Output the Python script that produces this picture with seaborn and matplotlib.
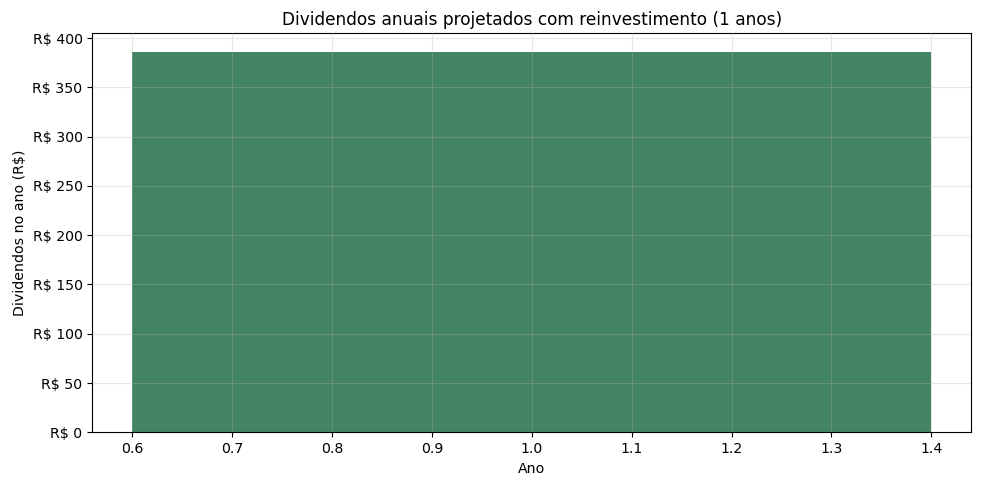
import matplotlib
matplotlib.use("Agg")
import matplotlib.pyplot as plt
import seaborn as sns
import pandas as pd
from matplotlib.ticker import FuncFormatter

anos = [1]
dividendos = [385.4]

df = pd.DataFrame({"Ano": anos, "Dividendos": dividendos})

plt.rcParams["font.size"] = 10.2
fig, ax = plt.subplots(figsize=(9.82, 4.87), dpi=100)
sns.barplot(data=df, x="Ano", y="Dividendos", native_scale=True, color="#438462",
            saturation=1, width=0.8, ax=ax, errorbar=None)
ax.set_xlim(0.56, 1.44)
ax.set_xticks([0.6, 0.7, 0.8, 0.9, 1.0, 1.1, 1.2, 1.3, 1.4])
ax.set_xticklabels(["0.6", "0.7", "0.8", "0.9", "1.0", "1.1", "1.2", "1.3", "1.4"])
ax.set_ylim(0, 405)
ax.set_yticks(range(0, 401, 50))
ax.yaxis.set_major_formatter(FuncFormatter(lambda v, p: f"R$ {v:.0f}"))
ax.set_axisbelow(False)
ax.grid(True, alpha=0.3)
ax.set_title("Dividendos anuais projetados com reinvestimento (1 anos)")
ax.set_xlabel("Ano")
ax.set_ylabel("Dividendos no ano (R$)")
fig.subplots_adjust(left=0.094, right=0.989, top=0.932, bottom=0.1123)
fig.savefig("out.png", dpi=100)
